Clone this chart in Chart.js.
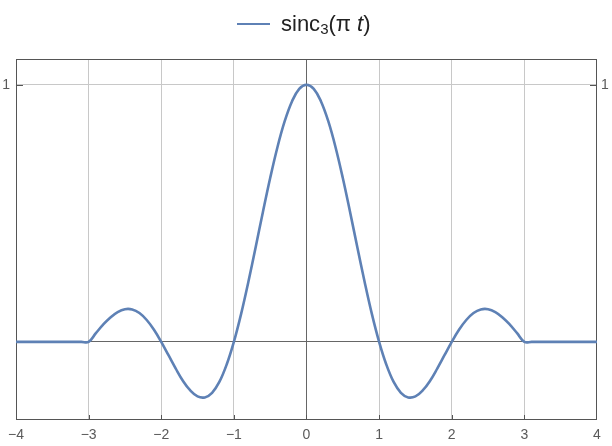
<!DOCTYPE html>
<html>
<head>
<meta charset="utf-8">
<script src="https://cdn.jsdelivr.net/npm/chart.js"></script>
<style>
    html, body { margin: 0; padding: 0; background: #fff; }
    #wrap { position: relative; width: 612px; height: 446px; }
    #legend {
        position: absolute; left: 0; top: 10px; width: 612px;
        font-family: "Liberation Sans", Arial, sans-serif; font-size: 22px; color: #222;
        line-height: 27px; white-space: nowrap;
    }
    #legend .swatch {
        position: absolute; left: 237px; top: 13px; width: 33px; height: 0;
        border-top: 2.6px solid #5E81B5;
    }
    #legend .label { position: absolute; left: 281px; top: 0; }
    #legend sub { font-size: 15px; vertical-align: -3px; line-height: 0; }
</style>
</head>
<body>
<div id="wrap">
    <canvas id="chart" width="612" height="446"></canvas>
    <div id="legend"><span class="swatch"></span><span class="label">sinc<sub>3</sub>(π <i>t</i>)</span></div>
</div>
<script>
// t samples and curve values
const tValues = [
    -4, -3.1, -3,
    -2.9, -2.8, -2.7, -2.6, -2.5, -2.4, -2.3, -2.2, -2.1, -2,
    -1.9, -1.8, -1.7, -1.6, -1.5, -1.4, -1.3, -1.2, -1.1, -1,
    -0.9, -0.8, -0.7, -0.6, -0.5, -0.4, -0.3, -0.2, -0.1, 0,
    0.1, 0.2, 0.3, 0.4, 0.5, 0.6, 0.7, 0.8, 0.9, 1,
    1.1, 1.2, 1.3, 1.4, 1.5, 1.6, 1.7, 1.8, 1.9, 2,
    2.1, 2.2, 2.3, 2.4, 2.5, 2.6, 2.7, 2.8, 2.9, 3,
    3.1, 4
];
const sincValues = [
    0, 0, 0,
    0.034, 0.067, 0.095, 0.116, 0.127, 0.126, 0.112, 0.085, 0.047, 0,
    -0.052, -0.104, -0.152, -0.189, -0.212, -0.216, -0.198, -0.156, -0.089, 0,
    0.109, 0.234, 0.368, 0.505, 0.637, 0.757, 0.858, 0.935, 0.984, 1,
    0.984, 0.935, 0.858, 0.757, 0.637, 0.505, 0.368, 0.234, 0.109, 0,
    -0.089, -0.156, -0.198, -0.216, -0.212, -0.189, -0.152, -0.104, -0.052, 0,
    0.047, 0.085, 0.112, 0.126, 0.127, 0.116, 0.095, 0.067, 0.034, 0,
    0, 0
];
const xTickValues = [-4, -3, -2, -1, 0, 1, 2, 3, 4];
const xTickLabels = ['−4', '−3', '−2', '−1', '0', '1', '2', '3', '4'];
const yTickValues = [0, 1];
const yTickLabels = ['', '1'];

const FRAME = '#555555';
const GRID = '#c8c8c8';
const AXIS = '#666666';
const LABEL = '#5a5a5a';
const tickFont = { family: '"Liberation Sans", Arial, sans-serif', size: 14 };

// frame + inward ticks, Mathematica style
const framePlugin = {
    id: 'frame',
    beforeDatasetsDraw(chart) {
        const { ctx, chartArea: a, scales } = chart;
        ctx.save();
        ctx.strokeStyle = FRAME;
        ctx.lineWidth = 1;
        ctx.strokeRect(Math.round(a.left) + 0.5, Math.round(a.top) + 0.5,
            Math.round(a.right - a.left) - 1, Math.round(a.bottom - a.top));
        ctx.beginPath();
        xTickValues.forEach(v => {
            if (v === -4 || v === 4) return;
            const x = Math.round(scales.x.getPixelForValue(v)) + 0.5;
            ctx.moveTo(x, a.bottom);
            ctx.lineTo(x, a.bottom - 4);
        });
        const y1 = Math.round(scales.y.getPixelForValue(1)) + 0.5;
        ctx.moveTo(a.left, y1);
        ctx.lineTo(a.left + 7, y1);
        ctx.moveTo(a.right, y1);
        ctx.lineTo(a.right - 7, y1);
        ctx.stroke();
        ctx.restore();
    }
};

new Chart(document.getElementById('chart'), {
    type: 'line',
    data: {
        datasets: [{
            label: 'sinc₃(π t)',
            data: tValues.map((t, i) => ({ x: t, y: sincValues[i] })),
            borderColor: '#5E81B5',
            borderWidth: 2.6,
            pointRadius: 0,
            fill: false,
            tension: 0.4
        }]
    },
    options: {
        responsive: false,
        animation: false,
        devicePixelRatio: 1,
        layout: { padding: { top: 59, left: 0, right: 0, bottom: 0 } },
        plugins: { legend: { display: false }, tooltip: { enabled: false } },
        scales: {
            x: {
                type: 'linear', min: -4, max: 4, position: 'bottom',
                afterBuildTicks: s => { s.ticks = xTickValues.map(v => ({ value: v })); },
                afterFit: s => { s.height = 27; },
                ticks: {
                    color: LABEL, font: tickFont, padding: 8, maxRotation: 0,
                    callback: (v) => xTickLabels[xTickValues.indexOf(v)]
                },
                grid: {
                    drawTicks: false,
                    color: c => (c.tick.value === 0 ? AXIS : (Math.abs(c.tick.value) === 4 ? 'rgba(0,0,0,0)' : GRID))
                },
                border: { display: false }
            },
            y: {
                type: 'linear', min: -0.3, max: 1.1, position: 'left',
                afterBuildTicks: s => { s.ticks = yTickValues.map(v => ({ value: v })); },
                afterFit: s => { s.width = 14; },
                ticks: {
                    color: LABEL, font: tickFont, padding: 6,
                    callback: (v) => yTickLabels[yTickValues.indexOf(v)]
                },
                grid: {
                    drawTicks: false,
                    color: c => (c.tick.value === 0 ? AXIS : GRID)
                },
                border: { display: false }
            },
            y2: {
                type: 'linear', min: -0.3, max: 1.1, position: 'right',
                afterBuildTicks: s => { s.ticks = [{ value: 1 }]; },
                afterFit: s => { s.width = 15; },
                ticks: { color: LABEL, font: tickFont, padding: 4, callback: () => '1' },
                grid: { display: false, drawTicks: false },
                border: { display: false }
            }
        }
    },
    plugins: [framePlugin]
});
</script>
</body>
</html>
